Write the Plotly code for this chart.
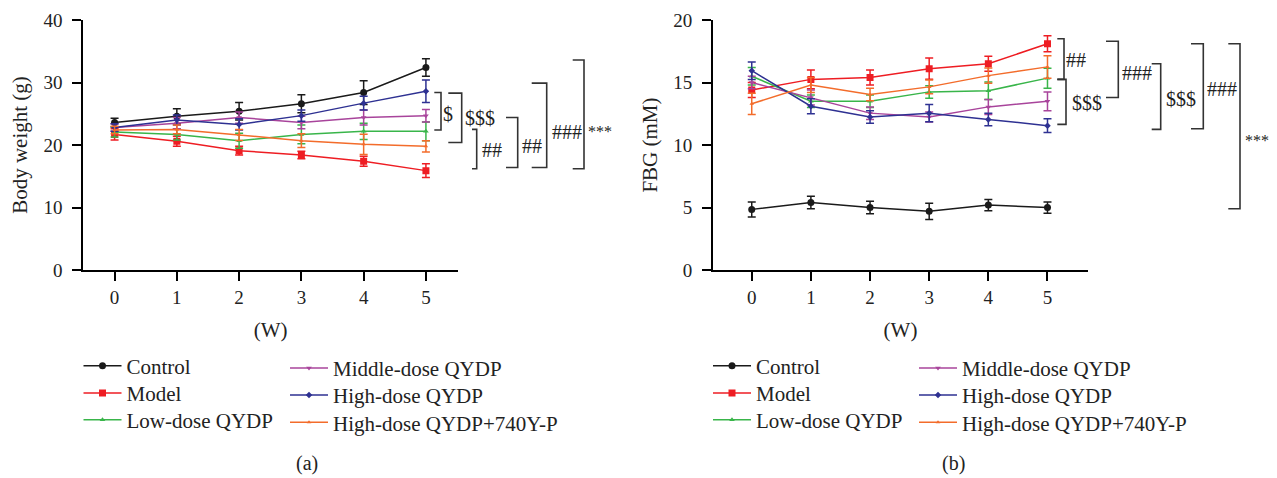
import plotly.graph_objects as go

weeks = [0, 1, 2, 3, 4, 5]
groups = ["Control", "Model", "Low-dose QYDP", "Middle-dose QYDP", "High-dose QYDP", "High-dose QYDP+740Y-P"]

# Body weight (g), mean and error
bw_control = [23.6, 24.6, 25.4, 26.6, 28.4, 32.4]
bw_control_err = [0.7, 1.2, 1.4, 1.45, 1.9, 1.4]
bw_model = [21.7, 20.6, 19.1, 18.4, 17.4, 15.9]
bw_model_err = [0.9, 0.8, 0.7, 0.6, 0.8, 1.1]
bw_low = [22.1, 21.7, 20.7, 21.7, 22.2, 22.2]
bw_low_err = [0.8, 0.9, 1.2, 1.5, 1.3, 1.5]
bw_middle = [22.8, 23.5, 24.4, 23.6, 24.4, 24.7]
bw_middle_err = [0.6, 0.9, 0.9, 1.0, 1.2, 1.0]
bw_high = [22.8, 24.0, 23.3, 24.7, 26.7, 28.6]
bw_high_err = [0.6, 0.8, 0.9, 0.9, 1.1, 1.8]
bw_combo = [22.4, 22.5, 21.6, 20.7, 20.1, 19.8]
bw_combo_err = [0.6, 0.7, 0.9, 1.1, 1.6, 0.9]

# FBG (mM), mean and error
fbg_control = [4.85, 5.4, 5.0, 4.7, 5.2, 5.0]
fbg_control_err = [0.6, 0.5, 0.5, 0.65, 0.45, 0.45]
fbg_model = [14.4, 15.25, 15.4, 16.1, 16.5, 18.1]
fbg_model_err = [0.6, 0.75, 0.6, 0.85, 0.6, 0.65]
fbg_low = [15.5, 13.5, 13.5, 14.25, 14.35, 15.35]
fbg_low_err = [0.7, 0.5, 0.5, 0.5, 0.7, 0.8]
fbg_middle = [15.0, 13.8, 12.55, 12.25, 13.05, 13.5]
fbg_middle_err = [0.5, 0.6, 0.5, 0.4, 0.6, 0.75]
fbg_high = [15.95, 13.1, 12.25, 12.55, 12.05, 11.55]
fbg_high_err = [0.7, 0.6, 0.5, 0.7, 0.5, 0.55]
fbg_combo = [13.3, 14.8, 14.05, 14.65, 15.55, 16.25]
fbg_combo_err = [0.85, 0.6, 0.5, 0.55, 0.6, 0.9]

# significance brackets: (y_top, y_bottom, label, label_y)
bw_brackets = [(28.4, 22.4, "$", 24.96), (28.3, 20.4, "$$$", 24.4), (22.5, 16.2, "##", 19.2),
               (24.4, 16.4, "##", 19.9), (29.9, 16.4, "###", 22.1), (33.6, 16.2, "***", 22.2)]
fbg_brackets = [(18.5, 15.25, "##", 16.8), (15.25, 11.65, "$$$", 13.4), (18.3, 13.8, "###", 15.8),
                (16.5, 11.25, "$$$", 13.7), (18.1, 11.3, "###", 14.5), (18.1, 4.9, "***", 10.4)]

colors = ["#1a1a1a", "#EE1D23", "#39B54A", "#A8449B", "#2E3192", "#F36C2B"]
symbols = ["circle", "square", "triangle-up", "triangle-down", "diamond", "triangle-up"]
msizes = [7, 7, 5, 5, 5, 4]

FONT = "Liberation Serif"
W, H = 1277, 478
OFF = 8  # page body margin offset
ML, MR, MT, MB = 83 - OFF, 0, 20 - OFF, 208 + OFF
PW, PH = W - ML - MR, H - MT - MB


def px(x):
    return (x - OFF - ML) / PW


def py(y):
    return (H - MB - (y - OFF)) / PH


fig = go.Figure()

bw_vals = [bw_control, bw_model, bw_low, bw_middle, bw_high, bw_combo]
bw_errs = [bw_control_err, bw_model_err, bw_low_err, bw_middle_err, bw_high_err, bw_combo_err]
fbg_vals = [fbg_control, fbg_model, fbg_low, fbg_middle, fbg_high, fbg_combo]
fbg_errs = [fbg_control_err, fbg_model_err, fbg_low_err, fbg_middle_err, fbg_high_err, fbg_combo_err]

# legend row positions (screen px): col x, row y centres
leg_col_x = [[78.5, 285.0], [708.0, 914.0]]
leg_row_y = [[366.0, 393.3, 420.0], [368.3, 395.3, 422.7]]

leg_common = dict(orientation="v", xanchor="left", yanchor="middle", bgcolor="rgba(0,0,0,0)",
                  borderwidth=0, font=dict(family=FONT, size=21, color="#222"),
                  itemwidth=38, tracegroupgap=0)
legend_layout = {}
for panel, (vals, errs, xa, ya) in enumerate([
        (bw_vals, bw_errs, "x", "y"),
        (fbg_vals, fbg_errs, "x2", "y2")]):
    for i, name in enumerate(groups):
        k = panel * 6 + i + 1
        lid = "legend" if k == 1 else f"legend{k}"
        col, row = i // 3, i % 3
        legend_layout[lid] = dict(x=px(leg_col_x[panel][col]), y=py(leg_row_y[col][row]), **leg_common)
        fig.add_trace(go.Scatter(
            x=weeks, y=vals[i], name=name, mode="lines+markers",
            xaxis=xa, yaxis=ya,
            line=dict(color=colors[i], width=1.5),
            marker=dict(symbol=symbols[i], size=msizes[i], color=colors[i]),
            error_y=dict(type="data", array=errs[i], color=colors[i], thickness=1.5, width=4),
            legend=lid,
        ))

axis_common = dict(showgrid=False, zeroline=False, showline=True, linecolor="black", linewidth=1.5,
                   ticks="outside", tickcolor="black", tickwidth=1.5, ticklen=9,
                   tickfont=dict(family=FONT, size=19, color="#222"))

x1 = [max(0.0, px(82.7)), px(458.3)]
x2 = [px(712.7), px(1088.3)]

fig.update_layout(
    width=W, height=H, margin=dict(l=ML, r=MR, t=MT, b=MB, autoexpand=False),
    plot_bgcolor="white", paper_bgcolor="white",
    font=dict(family=FONT, size=20, color="#222"),
    xaxis=dict(domain=x1, range=[-0.507, 5.52], tickvals=weeks, anchor="y",
               title=dict(text="(W)", font=dict(family=FONT, size=21), standoff=16), **axis_common),
    yaxis=dict(domain=[0, 1], range=[0, 40], tickvals=[0, 10, 20, 30, 40], anchor="x", ticklabelstandoff=6,
               title=dict(text="Body weight (g)", font=dict(family=FONT, size=21), standoff=12), **axis_common),
    xaxis2=dict(domain=x2, range=[-0.66, 5.69], tickvals=weeks, anchor="y2",
                title=dict(text="(W)", font=dict(family=FONT, size=21), standoff=16), **axis_common),
    yaxis2=dict(domain=[0, 1], range=[0, 20], tickvals=[0, 5, 10, 15, 20], anchor="x2", ticklabelstandoff=6,
                title=dict(text="FBG (mM)", font=dict(family=FONT, size=21), standoff=10), **axis_common),
    showlegend=True,
    **legend_layout,
)

# brackets
left_x = [(434.3, 441.0, 447.7), (448.3, 461.7, 480.0), (472.0, 476.7, 491.7),
          (506.0, 517.7, 532.3), (531.7, 546.7, 566.7), (572.7, 584.0, 600.0)]
right_x = [(1057.3, 1064.0, 1076.0), (1057.3, 1066.0, 1086.7), (1106.0, 1118.3, 1137.3),
           (1151.7, 1160.7, 1181.0), (1191.0, 1203.3, 1221.7), (1228.3, 1240.0, 1256.7)]
for brs, xs, yref in [(bw_brackets, left_x, "y"), (fbg_brackets, right_x, "y2")]:
    for (yt, yb, lab, ly), (xa0, xv, xl) in zip(brs, xs):
        path = f"M {px(xa0)},{yt} L {px(xv)},{yt} L {px(xv)},{yb} L {px(xa0)},{yb}"
        fig.add_shape(type="path", path=path, xref="paper", yref=yref,
                      line=dict(color="#333", width=1.6))
        fig.add_annotation(x=px(xl), y=ly, xref="paper", yref=yref, text=lab,
                           showarrow=False, xanchor="center", yanchor="middle",
                           font=dict(family=FONT, size=16 if lab == "***" else 20, color="#222"))

fig.add_annotation(x=px(306.7), y=py(463), xref="paper", yref="paper", text="(a)", showarrow=False,
                   xanchor="center", yanchor="middle", font=dict(family=FONT, size=20, color="#222"))
fig.add_annotation(x=px(953.3), y=py(463), xref="paper", yref="paper", text="(b)", showarrow=False,
                   xanchor="center", yanchor="middle", font=dict(family=FONT, size=20, color="#222"))

fig.write_html("out.html")
